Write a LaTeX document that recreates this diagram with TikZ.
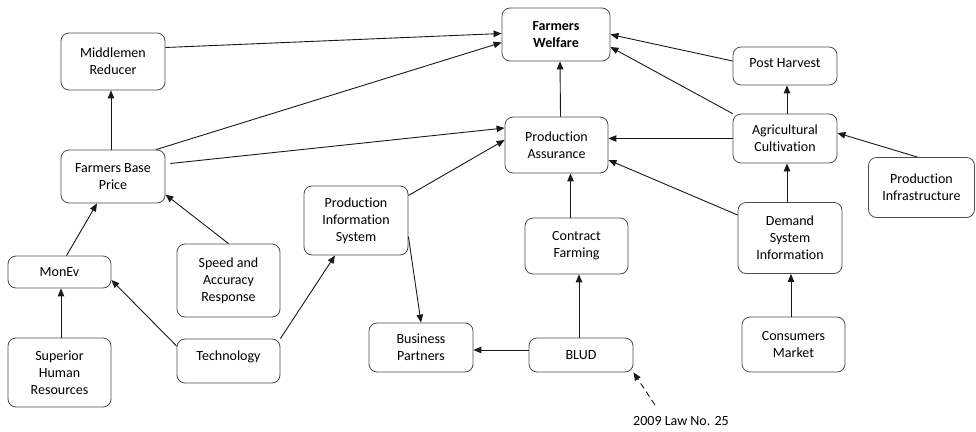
\documentclass[tikz,border=0pt]{standalone}
\usepackage{fontspec}
\setmainfont[Ligatures=NoCommon]{Carlito}
\usetikzlibrary{arrows.meta,calc}
\begin{document}
\begin{tikzpicture}[x=1pt,y=-1pt,
  box/.style={draw=black!70,line width=0.8pt,rounded corners=8pt,align=center,
    font=\fontsize{14}{17}\selectfont,inner sep=0pt},
  arr/.style={draw=black!90,line width=0.9pt,-{Triangle[length=8pt,width=6.5pt]}},
  darr/.style={arr,dashed,dash pattern=on 6pt off 4pt}]
\useasboundingbox (0,0) rectangle (976,431);
% nodes
\node[box,minimum width=104pt,minimum height=57pt] (mid) at (113,61.5) {Middlemen\\Reducer};
\node[box,minimum width=104pt,minimum height=53pt] (fbp) at (113,176.5) {Farmers Base\\Price};
\node[box,minimum width=108pt,minimum height=53pt] (fw) at (556,34.5) {\textbf{Farmers}\\\textbf{Welfare}};
\node[box,minimum width=103pt,minimum height=56pt] (pa) at (556.5,145) {Production\\Assurance};
\node[box,minimum width=104pt,minimum height=38pt,text depth=6pt] (ph) at (785,66) {Post Harvest};
\node[box,minimum width=104pt,minimum height=49pt] (ac) at (785,138.5) {Agricultural\\Cultivation};
\node[box,minimum width=106pt,minimum height=60pt] (pi) at (921.5,187.5) {Production\\Infrastructure};
\node[box,minimum width=104pt,minimum height=71pt] (dsi) at (790,238) {Demand\\System\\Information};
\node[box,minimum width=103pt,minimum height=55pt] (cm) at (793.5,344.5) {Consumers\\Market};
\node[box,minimum width=103pt,minimum height=56pt] (cf) at (576.5,246) {Contract\\Farming};
\node[box,minimum width=104pt,minimum height=34pt] (blud) at (581,355) {BLUD};
\node[box,minimum width=104pt,minimum height=49pt] (bp) at (421,347.5) {Business\\Partners};
\node[box,minimum width=104pt,minimum height=69pt] (pis) at (356,220.5) {Production\\Information\\System};
\node[box,minimum width=103pt,minimum height=73pt] (sar) at (228.5,280.5) {Speed and\\Accuracy\\Response};
\node[box,minimum width=103pt,minimum height=32pt] (monev) at (59.5,272) {MonEv};
\node[box,minimum width=103pt,minimum height=69pt] (shr) at (59.5,372.5) {Superior\\Human\\Resources};
\node[box,minimum width=103pt,minimum height=44pt,text depth=10pt] (tech) at (228.5,361) {Technology};
\node[font=\fontsize{14}{17}\selectfont,inner sep=0pt] (law) at (681,421) {2009 Law No. 25};
\coordinate (lawtip) at (655,405);
% connectors
\draw[arr] ([yshift=14pt]mid.east) -- ([yshift=1pt]fw.west);
\draw[arr] ([xshift=43pt]fbp.north) -- ([yshift=-8pt]fw.west);
\draw[arr] ([xshift=5pt,yshift=13pt]fbp.east) -- ([yshift=17pt]pa.west);
\draw[arr] ([xshift=-2pt]fbp.north) -- ([xshift=-2pt]mid.south);
\draw[arr] ([xshift=7pt]monev.north) -- ([xshift=-16pt]fbp.south);
\draw[arr] (sar.north) -- ([yshift=-18pt]fbp.east);
\draw[arr] ([xshift=1.5pt]shr.north) -- ([xshift=1.5pt]monev.south);
\draw[arr] ([yshift=15pt]tech.west) -- ([yshift=-8pt]monev.east);
\draw[arr] (tech.north east) -- ([xshift=-21pt]pis.south);
\draw[arr] ([yshift=25pt]pis.east) -- ([yshift=5pt]pa.west);
\draw[arr] ([yshift=-16pt]pis.east) -- (bp.north);
\draw[arr] ([xshift=4pt]pa.north) -- ([xshift=4pt]fw.south);
\draw[arr] ([xshift=-6pt]cf.north) -- ([xshift=-6pt]cf.north |- pa.south);
\draw[arr] ([xshift=-2pt]blud.north) -- ([xshift=-2pt]blud.north |- cf.south);
\draw[arr] ([yshift=5pt]blud.west) -- ([yshift=5pt]blud.west -| bp.east);
\draw[darr] (lawtip) -- (blud.south east);
\draw[arr] (ac.west) -- (ac.west -| pa.east);
\draw[arr] ([yshift=23pt]dsi.west) -- ([yshift=-15pt]pa.east);
\draw[arr] ([xshift=-3pt]dsi.north) -- ([xshift=-3pt]dsi.north |- ac.south);
\draw[arr] ([xshift=-2.5pt]cm.north) -- ([xshift=-2.5pt]cm.north |- dsi.south);
\draw[arr] ([yshift=5pt]ph.west) -- (fw.east);
\draw[arr] (ac.north west) -- ([yshift=-12.5pt]fw.east);
\draw[arr] ([xshift=-4pt]pi.north) -- ([yshift=5.5pt]ac.east);
\draw[arr] ([xshift=2pt]ac.north) -- ([xshift=2pt]ac.north |- ph.south);
\end{tikzpicture}
\end{document}
